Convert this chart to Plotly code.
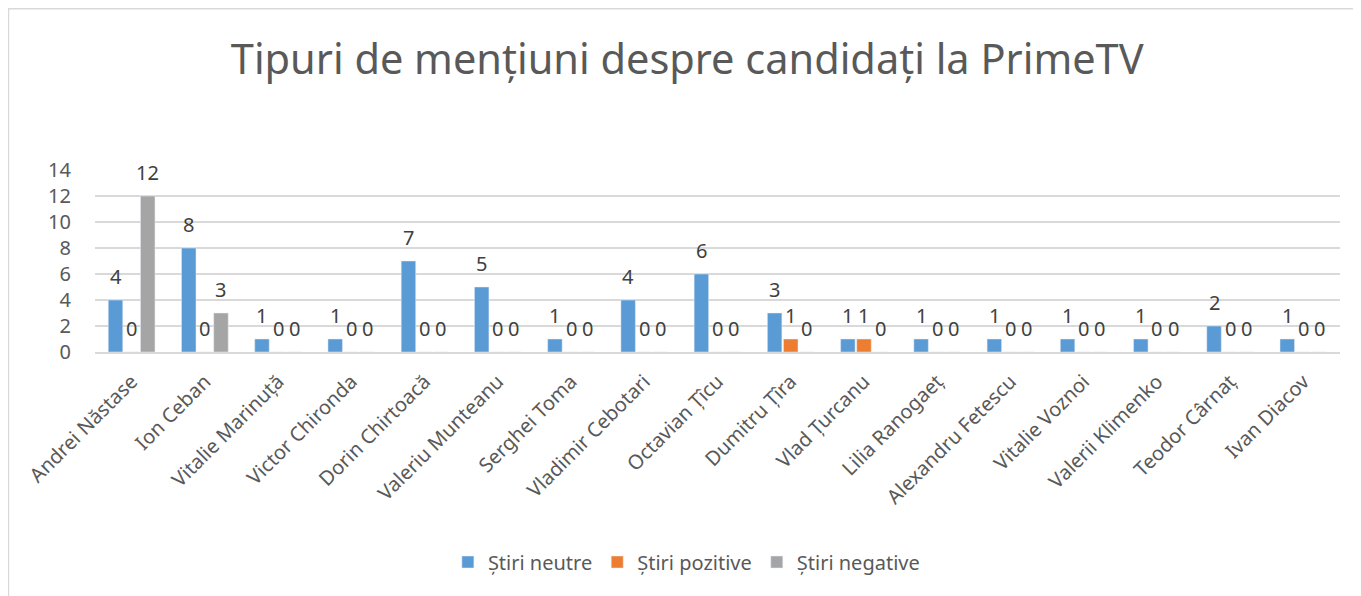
import plotly.graph_objects as go

candidati = [
    "Andrei Năstase", "Ion Ceban", "Vitalie Marinuță", "Victor Chironda",
    "Dorin Chirtoacă", "Valeriu Munteanu", "Serghei Toma", "Vladimir Cebotari",
    "Octavian Țîcu", "Dumitru Țîra", "Vlad Țurcanu", "Lilia Ranogaeț",
    "Alexandru Fetescu", "Vitalie Voznoi", "Valerii Klimenko", "Teodor Cârnaț",
    "Ivan Diacov",
]
stiri_neutre = [4, 8, 1, 1, 7, 5, 1, 4, 6, 3, 1, 1, 1, 1, 1, 2, 1]
stiri_pozitive = [0, 0, 0, 0, 0, 0, 0, 0, 0, 1, 1, 0, 0, 0, 0, 0, 0]
stiri_negative = [12, 3, 0, 0, 0, 0, 0, 0, 0, 0, 0, 0, 0, 0, 0, 0, 0]

FONT = "Noto Sans"
series = [
    ("Știri neutre", stiri_neutre, "#5b9bd5"),
    ("Știri pozitive", stiri_pozitive, "#ed7d31"),
    ("Știri negative", stiri_negative, "#a5a5a5"),
]

fig = go.Figure()
for name, vals, color in series:
    fig.add_trace(go.Bar(x=candidati, y=vals, name=name, marker_color=color))

# data labels placed like Excel: a bit above each bar, shifted to its slot in the group
slot = 1245 / len(candidati) * (1 - 0.34) / 3
for i, (name, vals, color) in enumerate(series):
    for cat, v in zip(candidati, vals):
        fig.add_annotation(
            x=cat,
            y=v,
            text=str(v),
            showarrow=False,
            xshift=(i - 1) * slot,
            yshift=24,
            yanchor="middle",
            font=dict(family=FONT, size=20, color="#404040"),
        )

# page has an 8px body margin, so the figure is sized to fit the window
fig.update_layout(
    width=1353,
    height=588,
    paper_bgcolor="white",
    plot_bgcolor="white",
    margin=dict(l=87, r=21, t=162, b=244),
    barmode="group",
    bargap=0.34,
    bargroupgap=0.1,
    font=dict(family=FONT, color="#595959"),
    title=dict(
        text="Tipuri de mențiuni despre candidați la PrimeTV",
        x=0.502,
        xref="container",
        y=0.912,
        yanchor="middle",
        font=dict(family=FONT, size=41.5, color="#595959"),
    ),
    xaxis=dict(
        tickangle=-45,
        tickfont=dict(family=FONT, size=20, color="#595959"),
        showline=True,
        linecolor="#d9d9d9",
        linewidth=2,
        ticks="",
        ticklabelstandoff=8,
    ),
    yaxis=dict(
        range=[0, 14],
        dtick=2,
        gridcolor="#d9d9d9",
        gridwidth=1.5,
        zeroline=False,
        tickfont=dict(family=FONT, size=20, color="#595959"),
        ticklabelstandoff=23,
    ),
    legend=dict(
        orientation="h",
        x=0.475,
        xanchor="center",
        y=-1.154,
        yanchor="middle",
        font=dict(family=FONT, size=20, color="#595959"),
        itemwidth=30,
    ),
    showlegend=True,
)

fig.add_shape(
    type="rect",
    xref="paper",
    yref="paper",
    x0=-0.0695,
    x1=1.05,
    y0=-1.5,
    y1=1.886,
    line=dict(color="#d9d9d9", width=1.5),
    layer="below",
)

fig.write_html("out.html")
